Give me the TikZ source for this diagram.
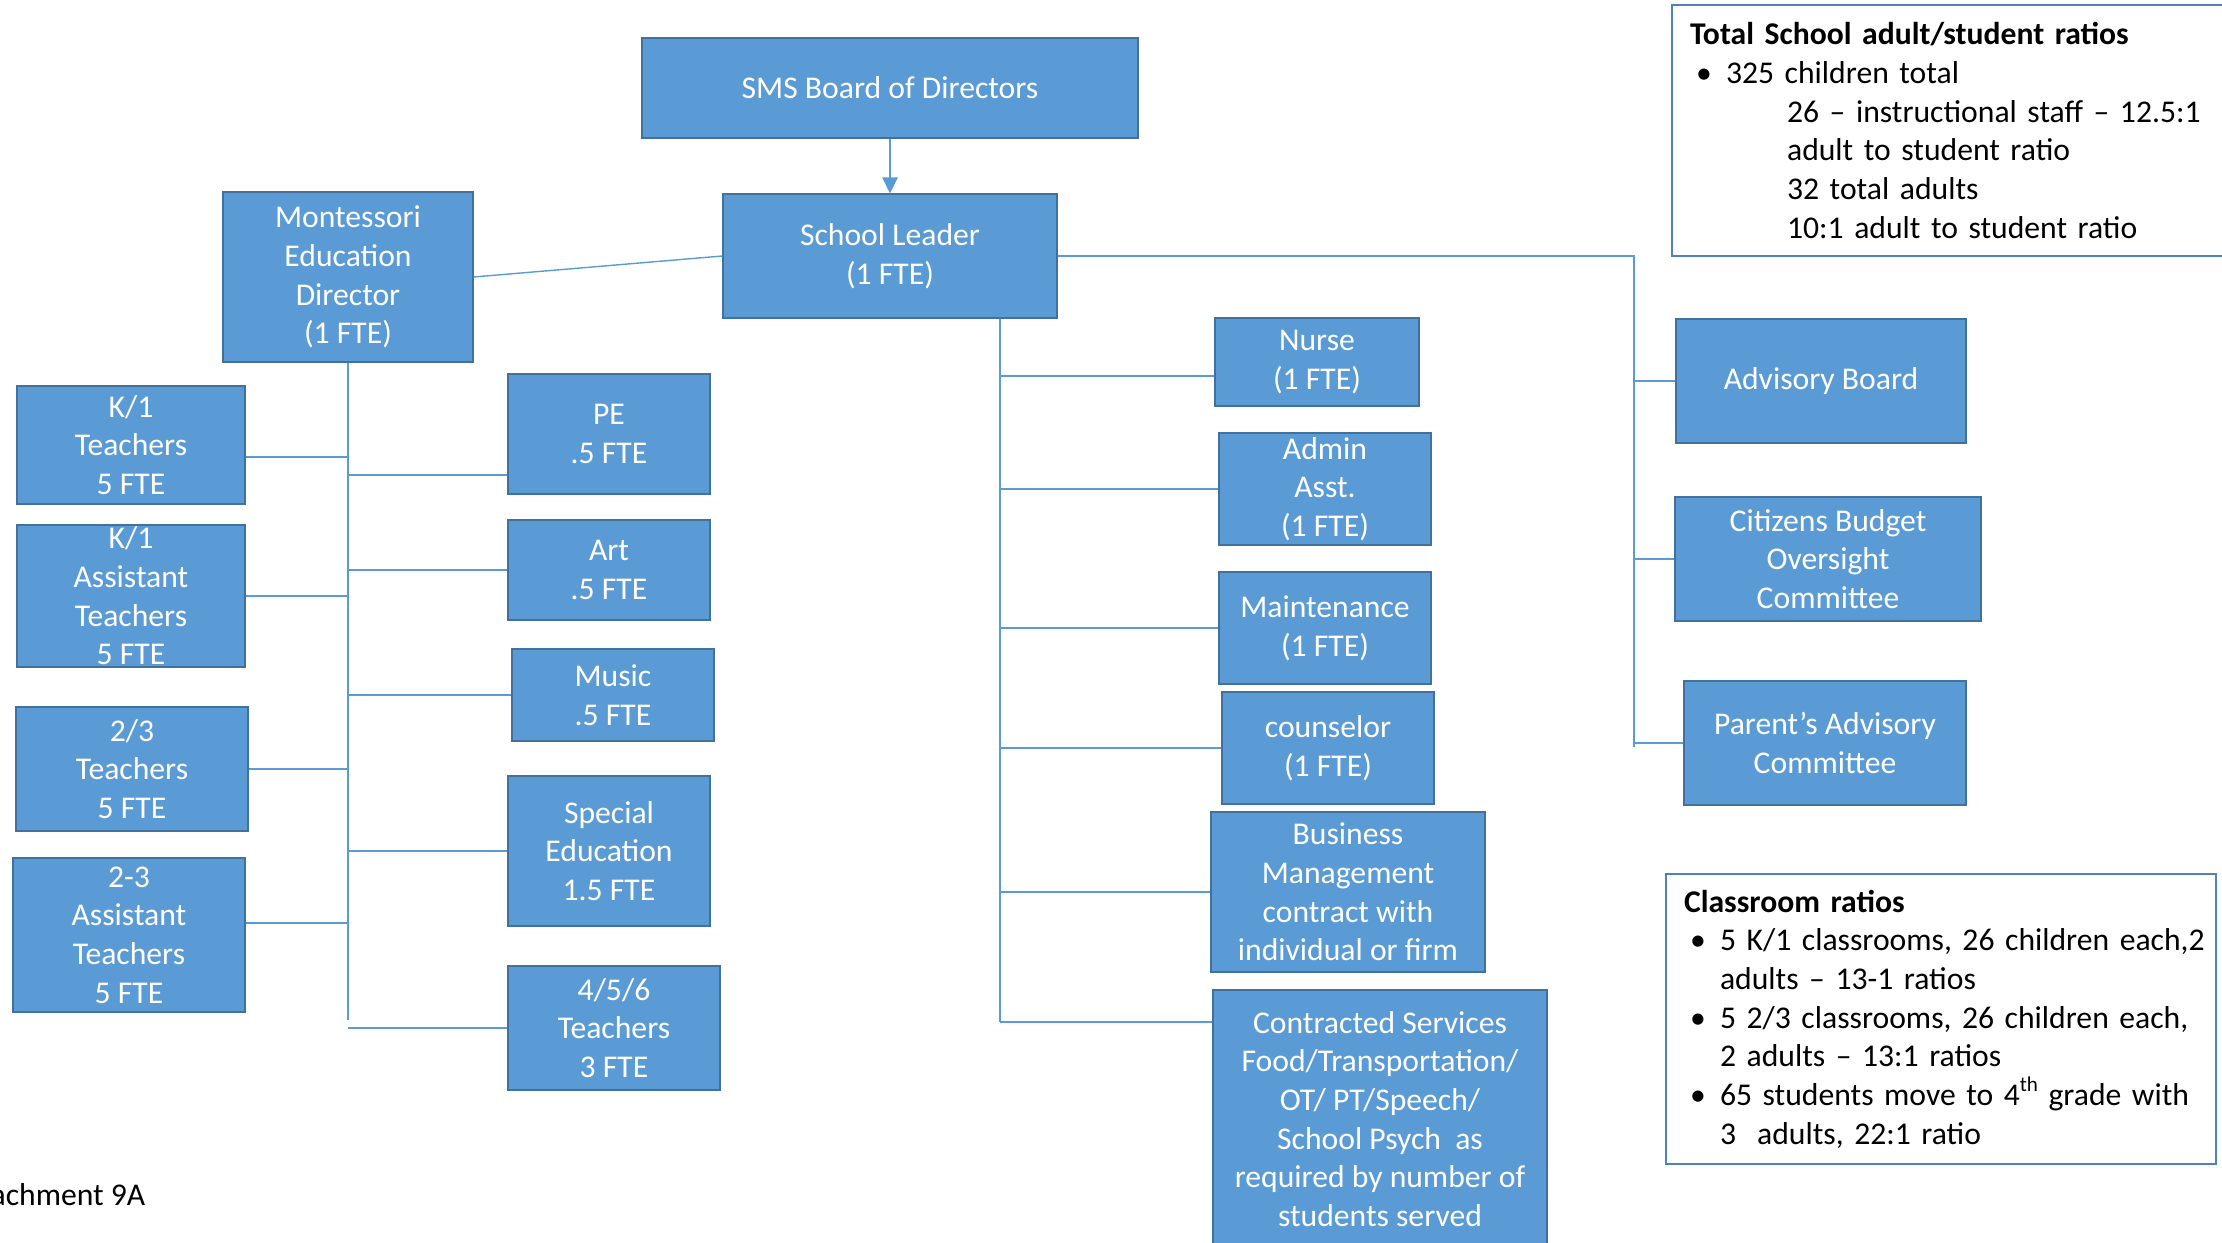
\documentclass[tikz,border=0pt]{standalone}
\usepackage{fontspec}
\setmainfont{Carlito}
\usetikzlibrary{arrows.meta}
\definecolor{unitfill}{HTML}{5B9BD5}
\definecolor{unitedge}{HTML}{41719C}
\definecolor{noteedge}{HTML}{4F81BD}
\newcommand{\ratioitem}[1]{\hspace*{0.06cm}\makebox[0.30cm][l]{\textbullet}\mbox{#1}}
\newcommand{\ratioline}[2]{\hspace*{#1}\mbox{#2}}
\newcommand{\ordsup}[1]{\raisebox{0.9ex}{\fontsize{6}{6}\selectfont #1}}
\tikzset{
  unit/.style={draw=unitedge, fill=unitfill, line width=0.02cm, text=white,
    align=center, inner sep=0pt, font=\fontsize{9}{11}\selectfont},
  link/.style={draw=unitfill, line width=0.014cm},
  note/.style={draw=noteedge, line width=0.02cm, align=left, inner ysep=0pt,
    inner xsep=0.18cm, anchor=north west, font=\fontsize{9}{11}\selectfont}
}

\begin{document}
\begin{tikzpicture}[x=0.01cm,y=-0.01cm]
  \clip (0,0) rectangle (2222,1243);

  \node [unit, minimum width=4.96cm, minimum height=0.99cm] (board) at (890,88) {SMS Board of Directors};
  \node [unit, minimum width=3.33cm, minimum height=1.23cm] (leader) at (890,256) {School Leader\\(1 FTE)};
  \node [unit, minimum width=2.49cm, minimum height=1.69cm] (director) at (348,277) {Montessori\\Education\\Director\\(1 FTE)};

  \node [unit, minimum width=2.27cm, minimum height=1.18cm] (k1t) at (131,445) {K/1\\Teachers\\5 FTE};
  \node [unit, minimum width=2.27cm, minimum height=1.41cm] (k1a) at (131,596) {K/1\\Assistant\\Teachers\\5 FTE};
  \node [unit, minimum width=2.32cm, minimum height=1.23cm] (t23) at (132,769) {2/3\\Teachers\\5 FTE};
  \node [unit, minimum width=2.31cm, minimum height=1.54cm] (a23) at (129,935) {2-3\\Assistant\\Teachers\\5 FTE};

  \node [unit, minimum width=2.01cm, minimum height=1.19cm] (pe) at (609,434) {PE\\.5 FTE};
  \node [unit, minimum width=2.01cm, minimum height=0.99cm] (art) at (609,570) {Art\\.5 FTE};
  \node [unit, minimum width=2.02cm, minimum height=0.92cm] (music) at (613,695) {Music\\.5 FTE};
  \node [unit, minimum width=2.01cm, minimum height=1.49cm] (sped) at (609,851) {Special\\Education\\1.5 FTE};
  \node [unit, minimum width=2.11cm, minimum height=1.23cm] (t456) at (614,1028) {4/5/6\\Teachers\\3 FTE};

  \node [unit, minimum width=2.03cm, minimum height=0.87cm] (nurse) at (1317,362) {Nurse\\(1 FTE)};
  \node [unit, minimum width=2.12cm, minimum height=1.12cm] (admin) at (1325,489) {Admin\\Asst.\\(1 FTE)};
  \node [unit, minimum width=2.12cm, minimum height=1.11cm] (maint) at (1325,628) {Maintenance\\(1 FTE)};
  \node [unit, minimum width=2.12cm, minimum height=1.12cm] (couns) at (1328,748) {counselor\\(1 FTE)};
  \node [unit, minimum width=2.73cm, minimum height=1.60cm] (business) at (1348,892) {Business\\Management\\contract with\\individual or firm};
  \node [unit, minimum width=3.34cm, minimum height=2.58cm] (contracted) at (1380,1119) {Contracted Services\\Food/Transportation/\\OT/ PT/Speech/\\School Psych\ \ as\\required by number of\\students served};

  \node [unit, minimum width=2.90cm, minimum height=1.24cm] (advisory) at (1821,381) {Advisory Board};
  \node [unit, minimum width=3.05cm, minimum height=1.23cm] (citizens) at (1828,559) {Citizens Budget\\Oversight\\Committee};
  \node [unit, minimum width=2.81cm, minimum height=1.23cm] (parents) at (1825,743) {Parent’s Advisory\\Committee};

  \node [note, minimum width=5.70cm, minimum height=2.51cm, text width=5.34cm] (totals) at (1671,4) {\textbf{Total School adult/student ratios}\\
    \ratioitem{325 children total}\\
    \ratioline{0.97cm}{26 – instructional staff – 12.5:1}\\
    \ratioline{0.97cm}{adult to student ratio}\\
    \ratioline{0.97cm}{32 total adults}\\
    \ratioline{0.97cm}{10:1 adult to student ratio}};
  \node [note, minimum width=5.50cm, minimum height=2.90cm, text width=5.14cm] (classes) at (1665,873) {\textbf{Classroom ratios}\\
    \ratioitem{5 K/1 classrooms, 26 children each,2}\\
    \ratioline{0.36cm}{adults – 13-1 ratios}\\
    \ratioitem{5 2/3 classrooms, 26 children each,}\\
    \ratioline{0.36cm}{2 adults – 13:1 ratios}\\
    \ratioitem{65 students move to 4\ordsup{th} grade with}\\
    \ratioline{0.36cm}{3\ \ adults, 22:1 ratio}};

  \node [anchor=east, inner sep=0pt, font=\fontsize{9}{11}\selectfont] (attach) at (146,1195) {Attachment 9A};

  \draw [-{Triangle[width=0.15cm,length=0.16cm]}, draw=unitfill, fill=unitfill, line width=0.028cm] (board) -- (leader);
  \draw [link] (leader.west) -- (director.east);

  \coordinate (mtrunk) at (348,1020);
  \coordinate (k1tlink) at ([yshift=-0.12cm]k1t.east);
  \coordinate (a23link) at ([yshift=0.12cm]a23.east);
  \coordinate (pelink) at ([yshift=-0.41cm]pe.west);
  \draw [link] (director.south) -- (mtrunk);
  \draw [link] (k1tlink) -- (k1tlink -| mtrunk);
  \draw [link] (k1a.east) -- (k1a.east -| mtrunk);
  \draw [link] (t23.east) -- (t23.east -| mtrunk);
  \draw [link] (a23link) -- (a23link -| mtrunk);
  \draw [link] (pelink) -- (pelink -| mtrunk);
  \draw [link] (art.west) -- (art.west -| mtrunk);
  \draw [link] (music.west) -- (music.west -| mtrunk);
  \draw [link] (sped.west) -- (sped.west -| mtrunk);
  \draw [link] (t456.west) -- (t456.west -| mtrunk);

  \coordinate (ltrunk) at (1000,1022);
  \coordinate (nurselink) at ([yshift=-0.14cm]nurse.west);
  \draw [link] (ltrunk |- leader.south) -- (ltrunk);
  \draw [link] (nurselink -| ltrunk) -- (nurselink);
  \draw [link] (admin.west -| ltrunk) -- (admin.west);
  \draw [link] (maint.west -| ltrunk) -- (maint.west);
  \draw [link] (couns.west -| ltrunk) -- (couns.west);
  \draw [link] (business.west -| ltrunk) -- (business.west);
  \draw [link] (ltrunk) -- (ltrunk -| contracted.west);

  \coordinate (rtrunk) at (1634,747);
  \draw [link] (leader.east) -- (leader.east -| rtrunk) -- (rtrunk);
  \draw [link] (advisory.west -| rtrunk) -- (advisory.west);
  \draw [link] (citizens.west -| rtrunk) -- (citizens.west);
  \draw [link] (parents.west -| rtrunk) -- (parents.west);
\end{tikzpicture}
\end{document}
